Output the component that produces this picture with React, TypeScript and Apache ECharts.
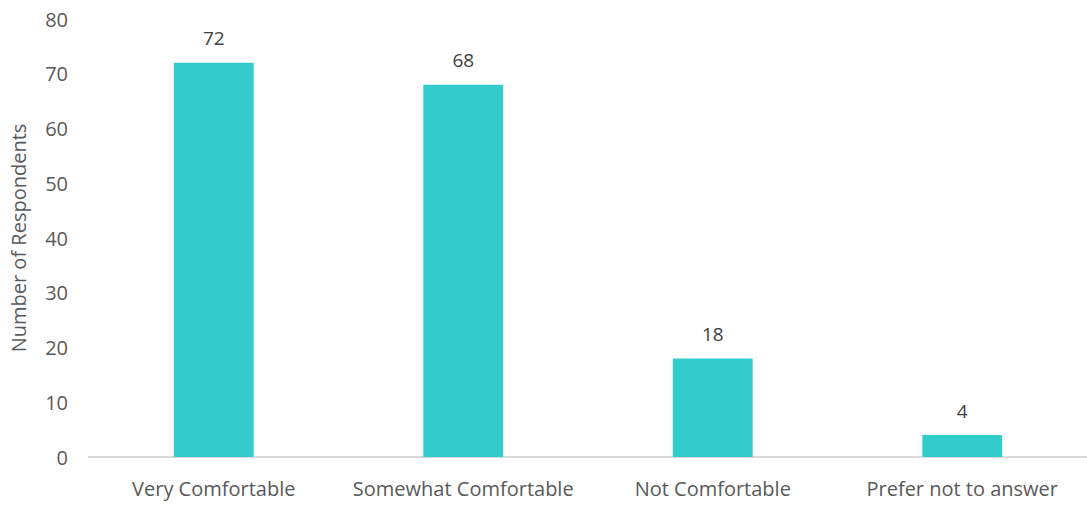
import React, { useEffect, useRef } from "react";
import * as echarts from "echarts";

const categories = ["Very Comfortable", "Somewhat Comfortable", "Not Comfortable", "Prefer not to answer"];
const respondents = [72, 68, 18, 4];
const yTicks = { min: 0, max: 80, interval: 10 };

export default function App() {
  const ref = useRef<HTMLDivElement>(null);
  useEffect(() => {
    const chart = echarts.init(ref.current!, null, { renderer: "svg" });
    const font = "'Open Sans', 'Noto Sans', sans-serif";
    chart.setOption({
      animation: false,
      textStyle: { fontFamily: font },
      grid: { left: 81, right: -4, top: 19, bottom: 51 },
      xAxis: {
        type: "category",
        data: categories,
        axisLine: { lineStyle: { color: "#d9d9d9", width: 2 } },
        axisTick: { show: false },
        axisLabel: { color: "#595959", fontSize: 20, margin: 21, interval: 0, fontFamily: font },
      },
      yAxis: {
        type: "value",
        min: yTicks.min,
        max: yTicks.max,
        interval: yTicks.interval,
        name: "Number of Respondents",
        nameLocation: "middle",
        nameRotate: 90,
        nameGap: 61,
        nameTextStyle: { color: "#595959", fontSize: 20, fontFamily: font },
        axisLine: { show: false },
        axisTick: { show: false },
        splitLine: { show: false },
        axisLabel: { color: "#595959", fontSize: 20, margin: 21, fontFamily: font },
      },
      series: [
        {
          type: "bar",
          data: respondents,
          barWidth: "32%",
          itemStyle: { color: "#33CCCC" },
          label: {
            show: true,
            position: "top",
            distance: 15,
            color: "#404040",
            fontSize: 19,
            fontFamily: font,
          },
        },
      ],
    });
    return () => chart.dispose();
  }, []);
  return <div ref={ref} style={{ position: "absolute", left: 0, top: 0, width: 1087, height: 508 }} />;
}
